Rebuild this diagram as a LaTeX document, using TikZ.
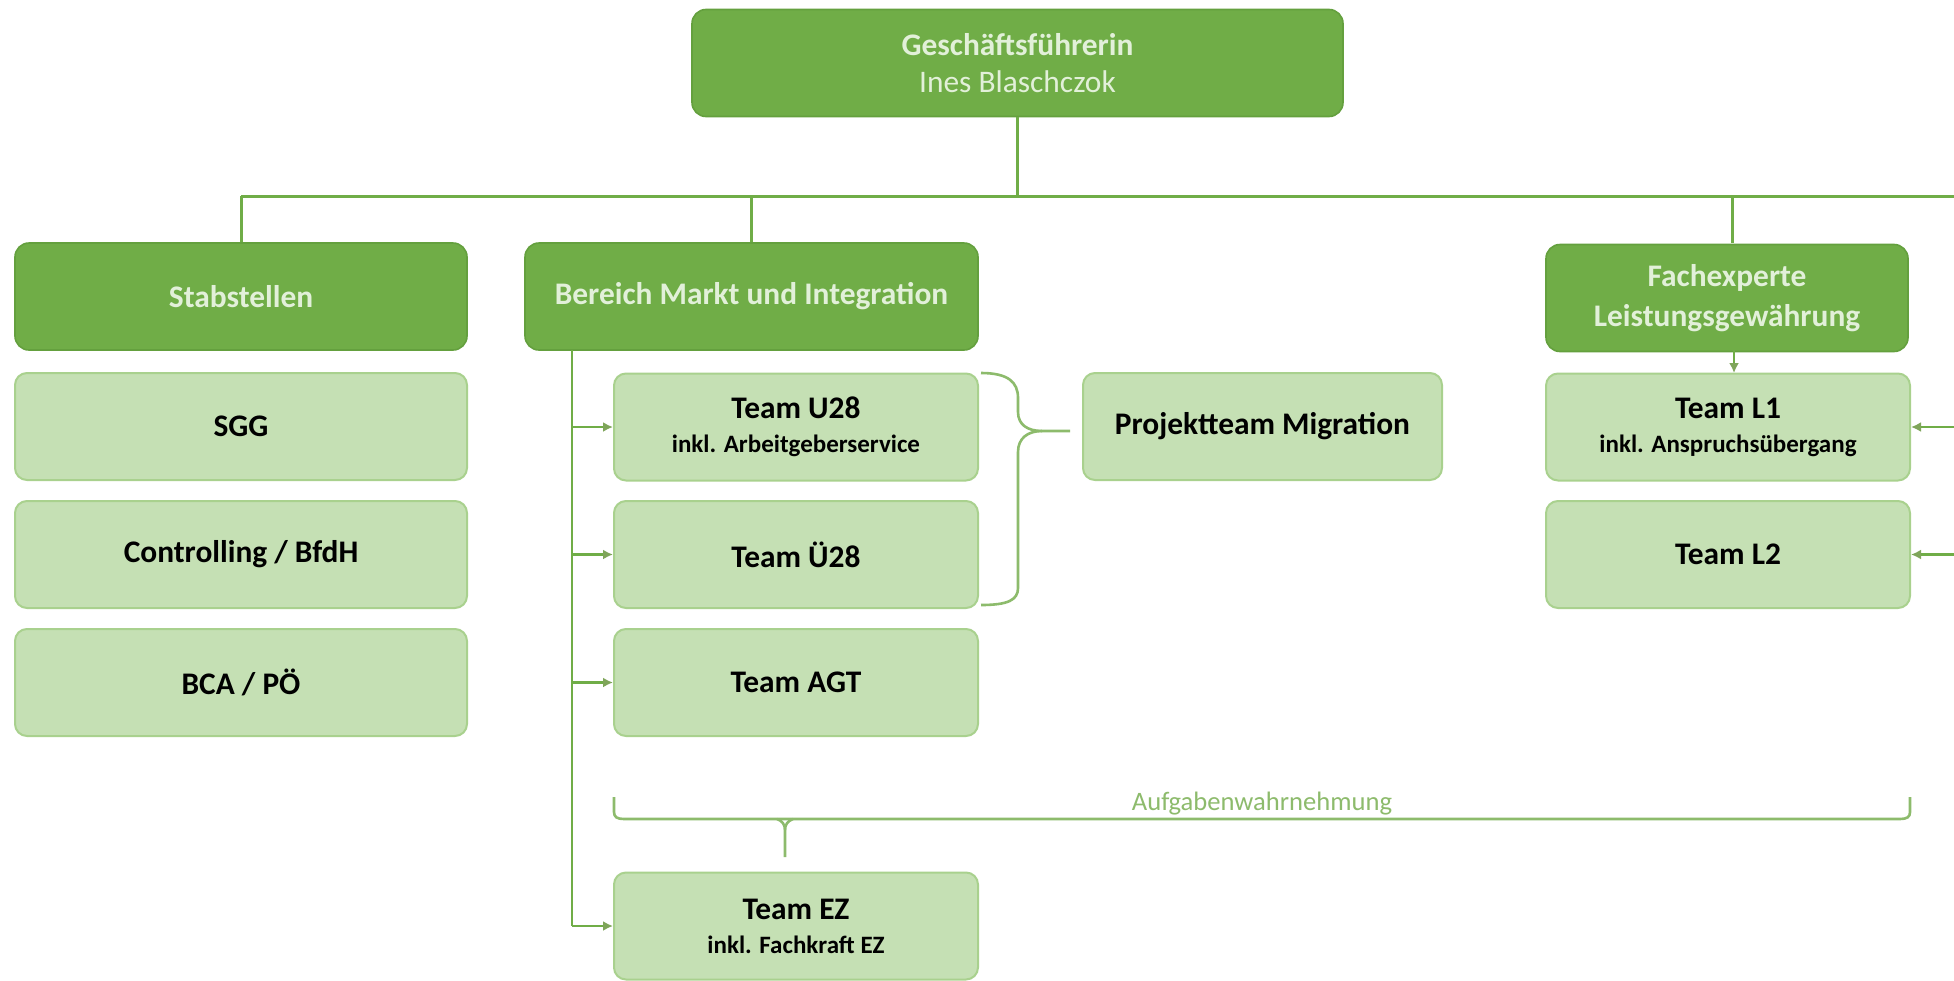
\documentclass[tikz,border=0pt]{standalone}
\usepackage{fontspec}
\setmainfont{Carlito}
\usetikzlibrary{arrows.meta}
\definecolor{dkgreen}{HTML}{70AD47}
\definecolor{dkborder}{HTML}{64A03E}
\definecolor{paletext}{HTML}{E2F0D9}
\definecolor{ltfill}{HTML}{C5E0B4}
\definecolor{ltborder}{HTML}{A9D18E}
\definecolor{tipcol}{HTML}{7FA55A}
\definecolor{bracecol}{HTML}{8DBB6C}
\begin{document}
\begin{tikzpicture}[x=0.5pt,y=-0.5pt,
  head/.style={rectangle, rounded corners=7pt, fill=dkgreen, draw=dkborder, line width=0.8pt,
    text=paletext, font=\bfseries\fontsize{15.7}{19.5}\selectfont, minimum height=53.5pt, align=center, inner sep=2pt},
  unit/.style={rectangle, rounded corners=6pt, fill=ltfill, draw=ltborder, line width=1pt,
    text=black, font=\bfseries\fontsize{15.7}{17}\selectfont, minimum height=53.5pt, align=center, inner sep=2pt},
  conn/.style={draw=dkgreen, line width=1.5pt},
  arr/.style={draw=dkgreen, line width=1.3pt, -{Latex[length=5pt,width=5pt,color=tipcol]}},
  subtext/.style={font=\bfseries\fontsize{12.5}{13}\selectfont}
]
\useasboundingbox (0,0) rectangle (1954,980);
\fill[white] (0,0) rectangle (1954,980);

% nodes
\node[head, minimum width=325.5pt] (gf) at (1017.5,63) {Geschäftsführerin\\[-1pt]{\mdseries Ines Blaschczok}};
\node[head, minimum width=226pt] (stab) at (241,296.5) {Stabstellen};
\node[head, minimum width=226.5pt] (bmi) at (751.5,296.5) {Bereich Markt und Integration};
\node[head, minimum width=181pt, font=\bfseries\fontsize{15.7}{20}\selectfont] (fach) at (1727,298) {Fachexperte\\Leistungsgewährung};

\node[unit, minimum width=226pt] (sgg) at (241,426.5) {SGG};
\node[unit, minimum width=226pt] (ctrl) at (241,554.5) {Controlling / BfdH};
\node[unit, minimum width=226pt] (bca) at (241,682.5) {BCA / PÖ};

\node[unit, minimum width=182pt] (u28) at (796,427) {Team U28\\[0pt]{\fontsize{12.5}{13}\selectfont inkl. Arbeitgeberservice}};
\node[unit, minimum width=182pt] (ue28) at (796,554.5) {Team Ü28};
\node[unit, minimum width=182pt] (agt) at (796,682.5) {Team AGT};
\node[unit, minimum width=182pt] (ez) at (796,926) {Team EZ\\[0pt]{\fontsize{12.5}{13}\selectfont inkl. Fachkraft EZ}};

\node[unit, minimum width=179.5pt] (proj) at (1262.5,426.5) {Projektteam Migration};

\node[unit, minimum width=182pt] (l1) at (1728,427) {Team L1\\[0pt]{\fontsize{12.5}{13}\selectfont inkl. Anspruchsübergang}};
\node[unit, minimum width=182pt] (l2) at (1728,554.5) {Team L2};

% bus
\coordinate (busL) at (241,196);
\coordinate (busR) at (1954,196);
\draw[conn] (gf.south) -- (gf.south |- busL);
\draw[conn] (busL) -- (busR);
\draw[conn] (stab.north |- busL) -- (stab.north);
\draw[conn] (bmi.north |- busL) -- (bmi.north);
\draw[conn] (1732,196) -- (1732,243);

% Bereich vertical
\coordinate (bv) at (572,350);
\draw[conn, line width=1.3pt] (bv) -- (bv |- ez.west);
\draw[arr] (bv |- u28.west) -- (u28.west);
\draw[arr] (bv |- ue28.west) -- (ue28.west);
\draw[arr] (bv |- agt.west) -- (agt.west);
\draw[arr] (bv |- ez.west) -- (ez.west);

% Fachexperte
\draw[arr] (1734,350) -- (1734,373);
\draw[arr] (busR |- l1.east) -- (l1.east);
\draw[arr] (busR |- l2.east) -- (l2.east);

% brace to Projektteam
\coordinate (ptip) at ([xshift=-6pt]proj.west);
\draw[draw=bracecol, line width=1.3pt]
  (981,373) .. controls (1008,373) and (1018,382) .. (1018,398) -- (1018,412)
  .. controls (1018,425) and (1028,431) .. (1042,431) -- (ptip |- 1042,431);
\draw[draw=bracecol, line width=1.3pt]
  (1042,431) .. controls (1028,431) and (1018,438) .. (1018,452) -- (1018,588)
  .. controls (1018,600) and (1008,605) .. (981,605);

% Aufgabenwahrnehmung bracket
\draw[draw=bracecol, line width=1.3pt]
  (614,797) -- (614,812) .. controls (614,817) and (617,819) .. (624,819) -- (1900,819)
  .. controls (1907,819) and (1910,817) .. (1910,812) -- (1910,797);
\draw[draw=bracecol, line width=1.3pt]
  (777,819) .. controls (782,821) and (785,824) .. (785,830) -- (785,857);
\draw[draw=bracecol, line width=1.3pt]
  (793,819) .. controls (788,821) and (785,824) .. (785,830);
\node[text=bracecol, font=\fontsize{13.3}{15}\selectfont] (auf) at (1262,804) {Aufgabenwahrnehmung};
\end{tikzpicture}
\end{document}
